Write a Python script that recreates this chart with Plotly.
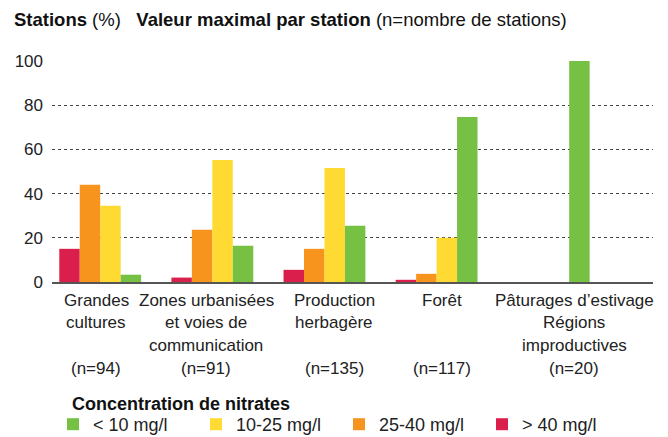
import plotly.graph_objects as go

categories = ["Grandes cultures", "Zones urbanisées", "Production herbagère", "Forêt", "Pâturages"]
label_lines = [
    ["Grandes", "cultures", ""],
    ["Zones urbanisées", "et voies de", "communication"],
    ["Production", "herbagère", ""],
    ["Forêt", "", ""],
    ["Pâturages d’estivage", "Régions", "improductives"],
]
n_stations = [94, 91, 135, 117, 20]

gt40 = [15, 2, 5.5, 1, 0]
c25_40 = [44, 23.6, 15, 3.7, 0]
c10_25 = [34.5, 55.2, 51.6, 20, 0]
lt10 = [3.3, 16.4, 25.4, 74.6, 100]

series = [
    ("> 40 mg/l", gt40, "#DA1F4D"),
    ("25-40 mg/l", c25_40, "#F7941D"),
    ("10-25 mg/l", c10_25, "#FFDA33"),
    ("< 10 mg/l", lt10, "#76C043"),
]

FONT = "Liberation Sans"
# the page body adds an 8px margin, so the figure is drawn 8px smaller and shifted
OFF = 8
W, H = 668 - OFF, 437 - OFF
L, R, T, B = 52 - OFF, 15, 60 - OFF, 155
PW, PH = W - L - R, H - T - B


def px_x(x):
    return (x - OFF - L) / PW


def px_y(y):
    return (H - B - (y - OFF)) / PH


fig = go.Figure()
for name, vals, col in series:
    fig.add_trace(go.Bar(x=categories, y=vals, name=name, marker_color=col,
                         marker_line_width=0))

# category labels under the groups (last one sits to the right, like the original)
label_x = [96, 206, 334, 442, 574]
for i, lines in enumerate(label_lines):
    for j, t in enumerate(lines + ["(n=%d)" % n_stations[i]]):
        if not t:
            continue
        fig.add_annotation(text=t, xref="paper", yref="paper", x=px_x(label_x[i]),
                           y=px_y(300 + 22.7 * j), xanchor="center", yanchor="middle",
                           showarrow=False, font=dict(family=FONT, size=17, color="#222"))

fig.add_annotation(text="<b>Stations</b> (%)\u00a0\u00a0 <b>Valeur maximal par station</b> (n=nombre de stations)",
                   xref="paper", yref="paper", x=px_x(12), y=px_y(19),
                   xanchor="left", yanchor="middle", showarrow=False,
                   font=dict(family=FONT, size=18.5, color="#111"))
fig.add_annotation(text="<b>Concentration de nitrates</b>",
                   xref="paper", yref="paper", x=px_x(70), y=px_y(404),
                   xanchor="left", yanchor="middle", showarrow=False,
                   font=dict(family=FONT, size=18, color="#111"))

fig.update_layout(
    width=W, height=H,
    margin=dict(l=L, r=R, t=T, b=B, autoexpand=False),
    plot_bgcolor="white", paper_bgcolor="white",
    barmode="group", bargap=0.27, bargroupgap=0,
    font=dict(family=FONT, size=17, color="#222"),
    legend=dict(orientation="h", traceorder="reversed",
                x=px_x(53), xanchor="left", y=px_y(406), yanchor="top",
                font=dict(family=FONT, size=18, color="#222"),
                entrywidth=98),
)
fig.update_xaxes(range=[-0.43, 4.93], showticklabels=False, showgrid=False,
                 showline=True, linecolor="#555", linewidth=2)
fig.update_yaxes(range=[0, 100.4], tickvals=[0, 20, 40, 60, 80, 100], showgrid=True,
                 gridcolor="#444", griddash="dot", gridwidth=1, zeroline=False,
                 ticklabelstandoff=8, tickfont=dict(family=FONT, size=17, color="#222"))

fig.write_html("out.html")
